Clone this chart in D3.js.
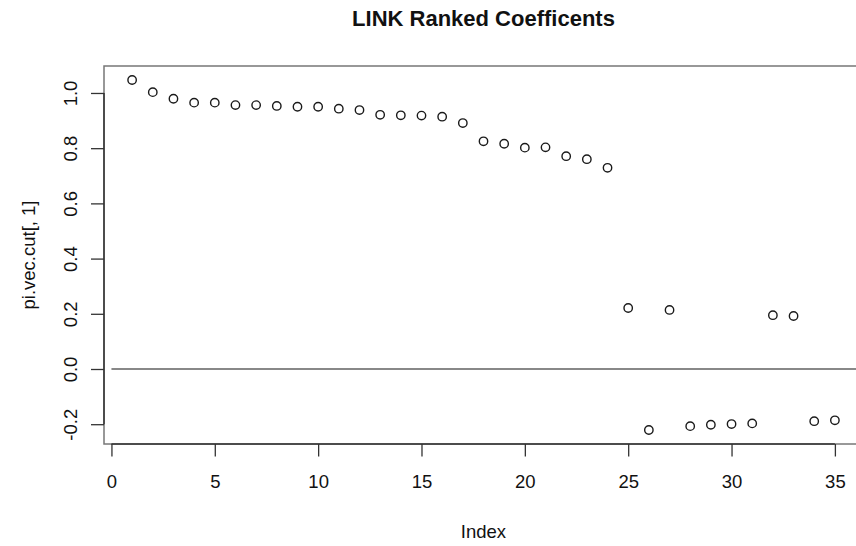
<!DOCTYPE html>
<html>
<head>
<meta charset="utf-8">
<script src="https://cdn.jsdelivr.net/npm/d3@7/dist/d3.min.js"></script>
<style>
  html, body { margin: 0; padding: 0; background: #fff; }
  svg { display: block; font-family: "Liberation Sans", Arial, Helvetica, sans-serif; }
</style>
</head>
<body>
<svg id="chart" width="856" height="546"></svg>
<script>
// Ranked LINK coefficients, first column of pi.vec.cut
const indexValues = d3.range(1, 36);
const coefValues = [
  1.047, 1.003, 0.979, 0.965, 0.965, 0.956, 0.956, 0.953, 0.950, 0.950,
  0.943, 0.938, 0.921, 0.919, 0.918, 0.914, 0.891, 0.825, 0.816, 0.802,
  0.803, 0.771, 0.760, 0.729, 0.221, -0.221, 0.214, -0.207, -0.202, -0.1995,
  -0.197, 0.195, 0.192, -0.189, -0.186
];
const xTicks = [0, 5, 10, 15, 20, 25, 30, 35];
const yTicks = [-0.2, 0.0, 0.2, 0.4, 0.6, 0.8, 1.0];
const refLevel = [0];

const titleText = "LINK Ranked Coefficents";
const xLabel = "Index";
const yLabel = "pi.vec.cut[, 1]";

const svg = d3.select("#chart");

// plot region (right edge runs past the canvas)
const plot = { left: 104, top: 66, right: 863, bottom: 444 };

// R-style 4% padding around the data range
function padded(ext) {
  const d = (ext[1] - ext[0]) * 0.04;
  return [ext[0] - d, ext[1] + d];
}

const x = d3.scaleLinear()
  .domain(padded(d3.extent(indexValues)))
  .range([plot.left, plot.right]);
const y = d3.scaleLinear()
  .domain(padded(d3.extent(coefValues)))
  .range([plot.bottom, plot.top]);

const axisColor = "#333";
const boxColor = "#777";
const fontSize = 18.5;

// plot box
svg.append("rect")
  .attr("x", plot.left).attr("y", plot.top)
  .attr("width", plot.right - plot.left).attr("height", plot.bottom - plot.top)
  .attr("fill", "none").attr("stroke", boxColor).attr("stroke-width", 1.5);

// horizontal reference line at zero, starting at index 0
svg.selectAll("line.ref").data(refLevel).enter().append("line")
  .attr("class", "ref")
  .attr("x1", x(0)).attr("x2", plot.right)
  .attr("y1", d => y(d)).attr("y2", d => y(d))
  .attr("stroke", "#888").attr("stroke-width", 2);

// x axis
const xAxis = d3.axisBottom(x).tickValues(xTicks).tickSize(12.5).tickFormat(d => String(d));
const gx = svg.append("g").attr("transform", `translate(0,${plot.bottom})`).call(xAxis);
gx.select(".domain").remove();
gx.append("line")
  .attr("x1", x(xTicks[0])).attr("x2", x(xTicks[xTicks.length - 1]))
  .attr("y1", 0).attr("y2", 0)
  .attr("stroke", axisColor).attr("stroke-width", 1.5);
gx.selectAll(".tick line").attr("stroke", axisColor).attr("stroke-width", 1.3);
gx.selectAll(".tick text")
  .attr("y", 44).attr("dy", null)
  .attr("fill", "#111")
  .style("font-size", fontSize + "px")
  .style("font-family", "'Liberation Sans', Arial, sans-serif");

// y axis (plain hyphen for negative labels)
const yAxis = d3.axisLeft(y).tickValues(yTicks).tickSize(13).tickFormat(d => d.toFixed(1));
const gy = svg.append("g").attr("transform", `translate(${plot.left},0)`).call(yAxis);
gy.select(".domain").remove();
gy.append("line")
  .attr("x1", 0).attr("x2", 0)
  .attr("y1", y(yTicks[0])).attr("y2", y(yTicks[yTicks.length - 1]))
  .attr("stroke", axisColor).attr("stroke-width", 1.5);
gy.selectAll(".tick line").attr("stroke", axisColor).attr("stroke-width", 1.3);
gy.selectAll(".tick text")
  .attr("x", null).attr("dy", null)
  .attr("text-anchor", "middle")
  .attr("transform", "translate(-27,0) rotate(-90)")
  .attr("fill", "#111")
  .style("font-size", fontSize + "px")
  .style("font-family", "'Liberation Sans', Arial, sans-serif");

// points (open circles)
svg.append("g").selectAll("circle")
  .data(indexValues.map((d, i) => ({ i: d, v: coefValues[i] })))
  .enter().append("circle")
  .attr("cx", d => x(d.i))
  .attr("cy", d => y(d.v))
  .attr("r", 4.2)
  .attr("fill", "none")
  .attr("stroke", "#1a1a1a")
  .attr("stroke-width", 1.4);

// title and axis labels
const midX = (plot.left + plot.right) / 2;
svg.append("text")
  .attr("x", midX).attr("y", 26)
  .attr("text-anchor", "middle")
  .style("font-size", "22px").style("font-weight", "bold")
  .attr("fill", "#111")
  .text(titleText);

svg.append("text")
  .attr("x", midX).attr("y", 538)
  .attr("text-anchor", "middle")
  .style("font-size", fontSize + "px")
  .attr("fill", "#111")
  .text(xLabel);

svg.append("text")
  .attr("transform", `translate(35,${(plot.top + plot.bottom) / 2}) rotate(-90)`)
  .attr("text-anchor", "middle")
  .style("font-size", fontSize + "px")
  .attr("fill", "#111")
  .text(yLabel);
</script>
</body>
</html>
